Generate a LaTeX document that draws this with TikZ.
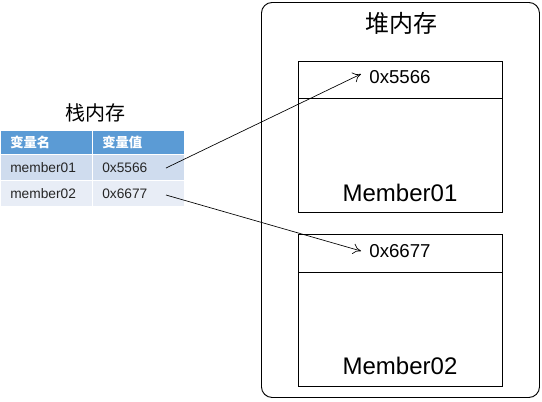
\documentclass[tikz,border=0pt]{standalone}
\usepackage{fontspec}
\setmainfont{Liberation Sans}
\newfontfamily\cjk{Noto Sans CJK SC}
\usetikzlibrary{arrows.meta}
\definecolor{hdr}{HTML}{5B9BD5}
\definecolor{rowa}{HTML}{CFDCEE}
\definecolor{rowb}{HTML}{E8EDF6}
\begin{document}
\begin{tikzpicture}[x=0.75pt,y=-0.75pt,
  cell/.style={draw=white,line width=1pt,minimum width=92*0.75pt,minimum height=26*0.75pt,inner sep=0pt,anchor=north west},
  hcell/.style={cell,fill=hdr,minimum height=24*0.75pt},
  htext/.style={font=\cjk\bfseries\fontsize{10}{12}\selectfont,text=white,anchor=west,inner sep=0pt},
  ctext/.style={font=\fontsize{10.3}{12}\selectfont,text=black!85,anchor=west,inner sep=0pt},
  memobox/.style={draw=black,line width=0.6pt,minimum width=204*0.75pt,inner sep=0pt,anchor=north west},
  ptr/.style={-{To[length=6pt,width=8pt]},line width=0.5pt}]
\useasboundingbox (0,0) rectangle (542,401);
% heap
\node[draw=black,line width=0.7pt,rounded corners=8pt,minimum width=278*0.75pt,minimum height=395*0.75pt,anchor=north west,inner sep=0pt] (heap) at (261,2) {};
\node[font=\cjk\fontsize{18}{20}\selectfont] (heaptitle) at (401,23) {堆内存};
% box 1
\node[memobox,minimum height=37*0.75pt] (b1top) at (298,61) {};
\node[memobox,minimum height=114*0.75pt] (b1bot) at (298,98) {};
\node[font=\fontsize{14}{16}\selectfont] (a1) at (400,77) {0x5566};
\node[font=\fontsize{18}{20}\selectfont] (m1) at (400,193) {Member01};
% box 2
\node[memobox,minimum height=38*0.75pt] (b2top) at (298,234) {};
\node[memobox,minimum height=114*0.75pt] (b2bot) at (298,272) {};
\node[font=\fontsize{14}{16}\selectfont] (a2) at (400,251) {0x6677};
\node[font=\fontsize{18}{20}\selectfont] (m2) at (400,366) {Member02};
% stack table
\node[font=\cjk\fontsize{15}{17}\selectfont] (stitle) at (95,113) {栈内存};
\node[hcell] (h1) at (0,130) {};
\node[hcell] (h2) at (92,130) {};
\node[cell,fill=rowa] (r11) at (0,154) {};
\node[cell,fill=rowa] (r12) at (92,154) {};
\node[cell,fill=rowb] (r21) at (0,180) {};
\node[cell,fill=rowb] (r22) at (92,180) {};
\node[htext] (t1) at (10,142) {变量名};
\node[htext] (t2) at (102,142) {变量值};
\node[ctext] (n1) at (10,168) {member01};
\node[ctext] (v1) at (102,168) {0x5566};
\node[ctext] (n2) at (10,194) {member02};
\node[ctext] (v2) at (102,194) {0x6677};
\coordinate (s1) at (166,168);
\coordinate (s2) at (166,195);
\coordinate (e1) at (361,74);
\coordinate (e2) at (361,251);
\draw[ptr] (s1) -- (e1);
\draw[ptr] (s2) -- (e2);
\end{tikzpicture}
\end{document}
